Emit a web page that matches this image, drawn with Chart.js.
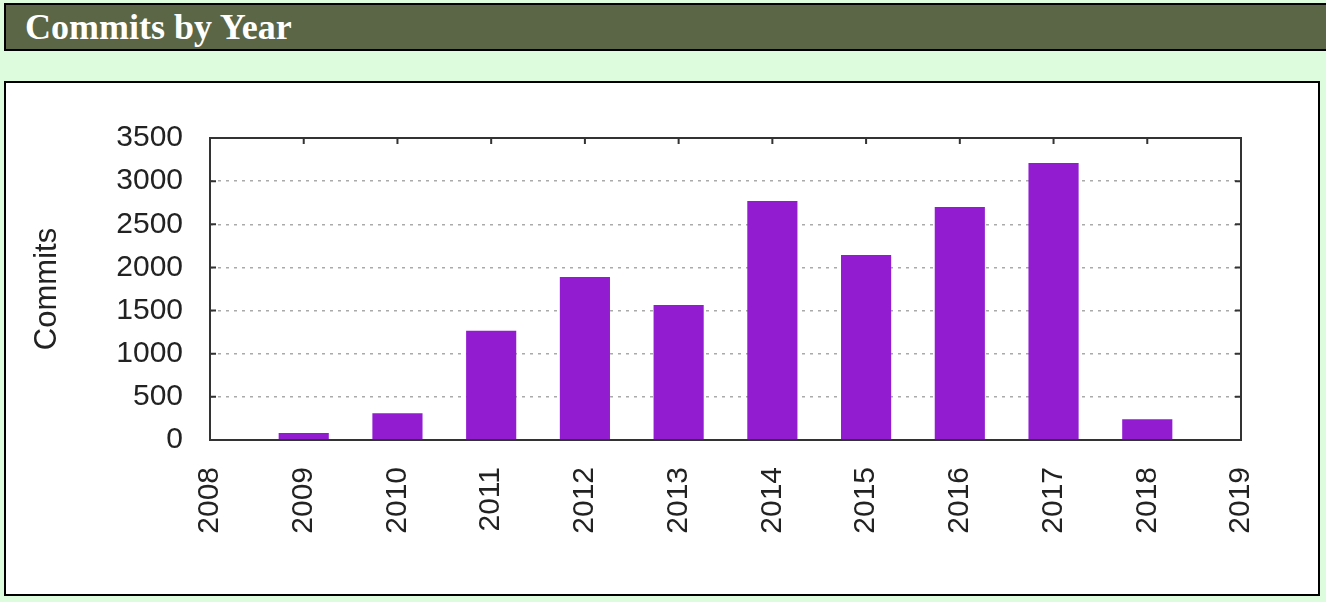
<!DOCTYPE html>
<html>
<head>
<meta charset="utf-8">
<title>Commits by Year</title>
<script src="https://cdn.jsdelivr.net/npm/chart.js@4/dist/chart.umd.min.js"></script>
<style>
  html, body { margin: 0; padding: 0; }
  body { width: 1326px; height: 602px; background: #ddfcdd; position: relative; overflow: hidden; }
  #header {
    position: absolute; left: 4px; top: 3px; width: 1340px; height: 44px;
    background: #5a6646; border: 2px solid #000;
    color: #fff; font: bold 36px "Liberation Serif", "DejaVu Serif", serif;
    line-height: 44px; padding-left: 19px; box-sizing: content-box;
  }
  #box {
    position: absolute; left: 4px; top: 81px; width: 1312px; height: 511px;
    background: #fff; border: 2px solid #000;
  }
  #chart { position: absolute; left: 0; top: 0; }
</style>
</head>
<body>
<div id="header">Commits by Year</div>
<div id="box"></div>
<canvas id="chart" width="1326" height="602"></canvas>
<script>
const years = [2009, 2010, 2011, 2012, 2013, 2014, 2015, 2016, 2017, 2018];
const commits = [80, 310, 1265, 1890, 1565, 2770, 2145, 2700, 3210, 240];
const yearRange = [2008, 2019];
const commitTicks = [0, 500, 1000, 1500, 2000, 2500, 3000, 3500];

const axisColor = "#333";

// gnuplot style frame with inward ticks
const framePlugin = {
  id: "frame",
  beforeDatasetsDraw(chart) {
    const { ctx, chartArea: a, scales } = chart;
    ctx.save();
    ctx.strokeStyle = axisColor;
    ctx.lineWidth = 2;
    ctx.beginPath();
    for (let v = yearRange[0]; v <= yearRange[1]; v++) {
      const x = scales.x.getPixelForValue(v);
      ctx.moveTo(x, a.top); ctx.lineTo(x, a.top + 6);
      ctx.moveTo(x, a.bottom); ctx.lineTo(x, a.bottom - 6);
    }
    commitTicks.forEach(v => {
      const y = scales.y.getPixelForValue(v);
      ctx.moveTo(a.left, y); ctx.lineTo(a.left + 6, y);
      ctx.moveTo(a.right, y); ctx.lineTo(a.right - 6, y);
    });
    ctx.stroke();
    ctx.restore();
  },
  afterDatasetsDraw(chart) {
    const { ctx, chartArea: a } = chart;
    ctx.save();
    ctx.strokeStyle = axisColor;
    ctx.lineWidth = 2;
    ctx.strokeRect(a.left, a.top, a.right - a.left, a.bottom - a.top);
    ctx.restore();
  }
};

const tickFont = { family: "'Liberation Sans', Arial, sans-serif", size: 30 };

new Chart(document.getElementById("chart"), {
  type: "bar",
  data: {
    datasets: [{
      label: "Commits",
      data: years.map((y, i) => ({ x: y, y: commits[i] })),
      backgroundColor: "#921cd0",
      borderWidth: 0,
      categoryPercentage: 1,
      barPercentage: 0.535
    }]
  },
  options: {
    responsive: false,
    animation: false,
    devicePixelRatio: 1,
    layout: { padding: { top: 138, right: 85, bottom: 0, left: 0 } },
    plugins: {
      legend: { display: false },
      tooltip: { enabled: false }
    },
    scales: {
      x: {
        type: "linear",
        min: yearRange[0],
        max: yearRange[1],
        offset: false,
        afterFit: s => { s.height = 162; },
        grid: { display: false, offset: false },
        border: { display: false },
        ticks: {
          stepSize: 1,
          autoSkip: false,
          maxRotation: 90,
          minRotation: 90,
          padding: 19,
          color: "#222",
          font: tickFont,
          callback: v => String(v)
        }
      },
      y: {
        min: 0,
        max: 3500,
        afterFit: s => { s.width = 210; },
        afterBuildTicks: s => { s.ticks = commitTicks.map(v => ({ value: v })); },
        grid: {
          drawTicks: false,
          lineWidth: 1.5,
          color: ctx => (ctx.tick && (ctx.tick.value === 0 || ctx.tick.value === 3500)) ? "rgba(0,0,0,0)" : "#aaa"
        },
        border: { display: false, dash: [3, 5] },
        ticks: {
          padding: 27,
          color: "#222",
          font: tickFont,
          callback: v => String(v)
        },
        title: {
          display: true,
          text: "Commits",
          color: "#222",
          font: { family: "'Liberation Sans', Arial, sans-serif", size: 31 },
          padding: { top: 29, bottom: 0 }
        }
      }
    }
  },
  plugins: [framePlugin]
});
</script>
</body>
</html>
